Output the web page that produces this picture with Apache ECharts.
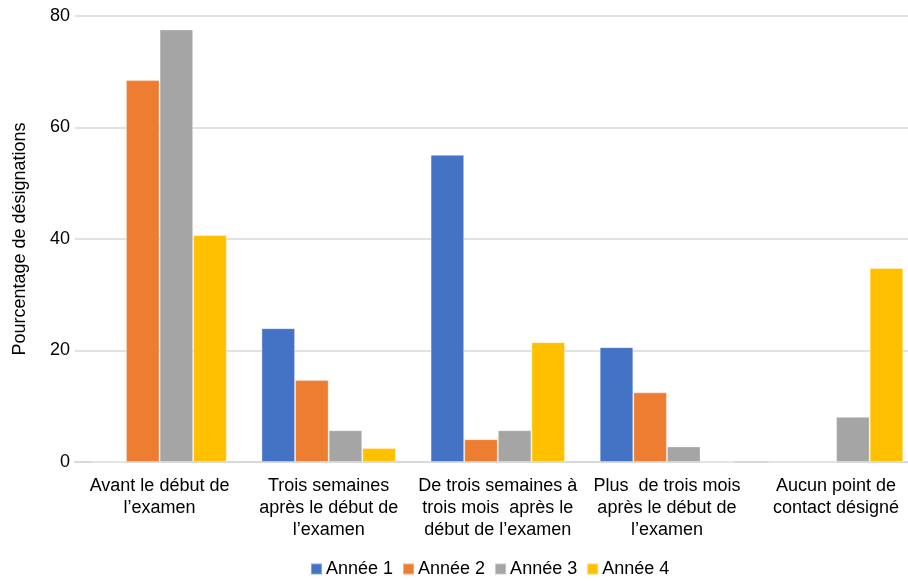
<!DOCTYPE html>
<html>
<head>
<meta charset="utf-8">
<script src="https://cdn.jsdelivr.net/npm/echarts@6/dist/echarts.min.js"></script>
<style>
  html, body { margin: 0; padding: 0; background: #fff; }
  #chart { width: 908px; height: 581px; }
</style>
</head>
<body>
<div id="chart"></div>
<script>
// Timing of point-of-contact designations, by year
const categories = [
  "Avant le début de\nl’examen",
  "Trois semaines\naprès le début de\nl’examen",
  "De trois semaines à\ntrois mois  après le\ndébut de l’examen",
  "Plus  de trois mois\naprès le début de\nl’examen",
  "Aucun point de\ncontact désigné"
];
const seriesNames = ["Année 1", "Année 2", "Année 3", "Année 4"];
const annee1 = [0, 24.0, 55.1, 20.6, 0];
const annee2 = [68.5, 14.7, 4.1, 12.5, 0];
const annee3 = [77.6, 5.7, 5.7, 2.8, 8.1];
const annee4 = [40.7, 2.5, 21.5, 0, 34.8];
const yTicks = [0, 20, 40, 60, 80];

const colors = ["#4472C4", "#ED7D31", "#A5A5A5", "#FFC000"];
const values = [annee1, annee2, annee3, annee4];
const font = "Liberation Sans, Arial, sans-serif";

const chart = echarts.init(document.getElementById("chart"), null, { renderer: "canvas" });
chart.setOption({
  animation: false,
  textStyle: { fontFamily: font },
  color: colors,
  // the plot runs a little past the right edge of the canvas
  grid: { left: 75, width: 845.6, top: 16, bottom: 119, outerBoundsMode: "none", containLabel: false },
  legend: {
    data: seriesNames,
    top: 560,
    left: 310,
    padding: 0,
    itemWidth: 11,
    itemHeight: 11,
    itemGap: 9,
    icon: "rect",
    textStyle: { fontSize: 18, color: "#000", fontFamily: font, padding: [0, 0, 0, -1] }
  },
  xAxis: {
    type: "category",
    data: categories,
    axisLine: { lineStyle: { color: "#d9d9d9", width: 2 } },
    axisTick: { show: false },
    axisLabel: {
      interval: 0,
      margin: 13.5,
      fontSize: 18,
      lineHeight: 21.7,
      color: "#000",
      fontFamily: font,
      align: "center"
    }
  },
  yAxis: {
    type: "value",
    min: yTicks[0],
    max: yTicks[yTicks.length - 1],
    interval: 20,
    name: "Pourcentage de désignations",
    nameLocation: "middle",
    nameGap: 46,
    nameTextStyle: { fontSize: 18, color: "#000", fontFamily: font },
    axisLine: { show: false },
    axisTick: { show: false },
    axisLabel: { fontSize: 18, color: "#000", margin: 5, fontFamily: font },
    splitLine: { lineStyle: { color: "#d9d9d9", width: 1.5 } }
  },
  series: seriesNames.map((name, i) => ({
    name: name,
    type: "bar",
    data: values[i],
    barGap: "0%",
    barCategoryGap: "20.5%",
    itemStyle: { color: colors[i], borderColor: "rgba(255,255,255,0.35)", borderWidth: 1 }
  }))
});
</script>
</body>
</html>
